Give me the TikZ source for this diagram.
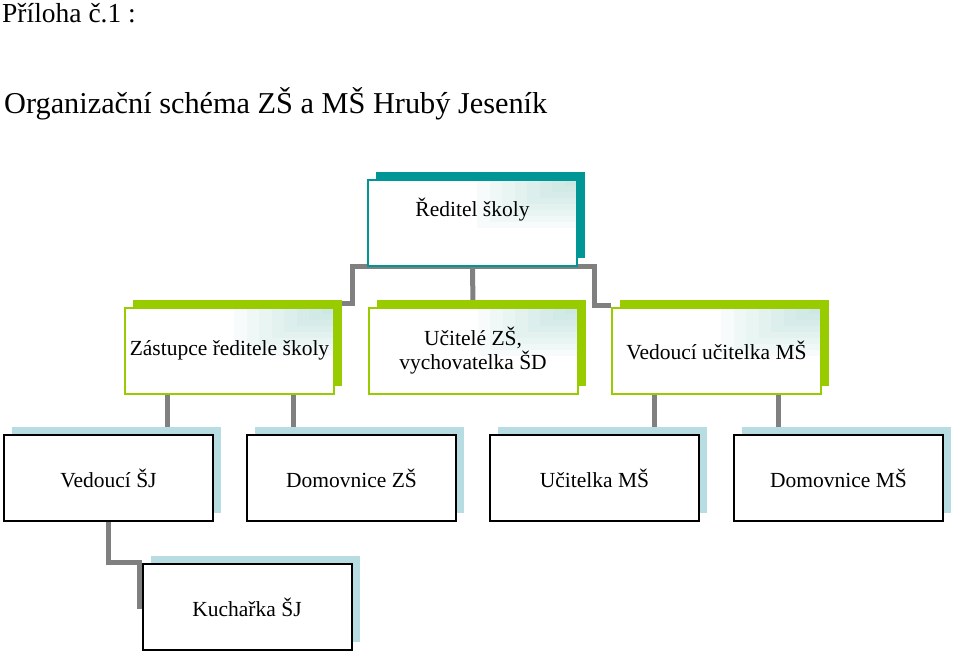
\documentclass[tikz,border=0pt]{standalone}
\usepackage{fontspec}
\setmainfont{Liberation Serif}
\usepackage{xcolor}
\usetikzlibrary{positioning, shadows, backgrounds}
\definecolor{tyrkys}{RGB}{0,150,150}
\definecolor{zelena}{RGB}{153,204,0}
\definecolor{modra}{RGB}{183,221,227}
\definecolor{sedalinka}{RGB}{128,128,128}
\definecolor{prechod}{RGB}{150,210,200}
\tikzstyle{roh} = [path picture={
\foreach \i in {1,...,8}{
\fill[prechod, opacity=0.07] ([xshift={-12.5pt*\i}]path picture bounding box.north east) rectangle ([yshift={-6pt*\i}]path picture bounding box.north east);}
}]
\tikzstyle{box} = [rectangle, 
minimum width=209pt, 
minimum height=86pt, 
inner sep=0pt, 
align=center, 
font=\fontsize{21.5}{24}\selectfont, 
fill=white, 
line width=2pt]
\tikzstyle{vedeni} = [box, roh, draw=tyrkys, 
general shadow={fill=tyrkys, shadow xshift=8pt, shadow yshift=8pt}]
\tikzstyle{zastup} = [box, roh, draw=zelena, 
general shadow={fill=zelena, shadow xshift=8pt, shadow yshift=8pt}]
\tikzstyle{zamest} = [box, draw=black, 
general shadow={fill=modra, shadow xshift=8pt, shadow yshift=8pt}]
\tikzstyle{spoj} = [line width=5pt, draw=sedalinka]

\begin{document}
\begin{tikzpicture}[x=1pt, y=-1pt]
        \useasboundingbox (0,0) rectangle (960,651);

        % Nadpisy
        \node (priloha) [anchor=base west, inner sep=0pt, font=\fontsize{27.5}{31}\selectfont] at (2,22) {Příloha č.1 :};
        \node (nadpis) [anchor=base west, inner sep=0pt, font=\fontsize{30.3}{34}\selectfont] at (4,113) {Organizační schéma ZŠ a MŠ Hrubý Jeseník};

        % Uzly
        \node (red) [vedeni] at (472.5,222.5) {\raisebox{6.5pt}[0pt][0pt]{Ředitel školy}};
        \node (zast) [zastup] at (229.5,350.5) {Zástupce ředitele školy};
        \node (uc) [zastup] at (473,350.5) {Učitelé ZŠ,\\vychovatelka ŠD};
        \node (vedu) [zastup] at (716.5,350.5) {Vedoucí učitelka MŠ};
        \node (vsj) [zamest] at (108.5,478) {Vedoucí ŠJ};
        \node (domzs) [zamest] at (351.5,478) {Domovnice ZŠ};
        \node (ucms) [zamest] at (594.5,478) {Učitelka MŠ};
        \node (domms) [zamest] at (838.5,478) {Domovnice MŠ};
        \node (kuch) [zamest] at (247,607) {Kuchařka ŠJ};

        % Spojení
        \begin{scope}[on background layer]
        \draw [spoj] (red.south) -- (uc.north);
        \draw [spoj] (red.south) -| ([xshift=17pt,yshift=3pt]zast.north east) -- ([xshift=6pt,yshift=3pt]zast.north east);
        \draw [spoj] (red.south) -| ([xshift=-17pt,yshift=1pt]vedu.north west) -- ([yshift=1pt]vedu.north west);
        \draw [spoj] ([xshift=43pt]zast.south west) -- ([xshift=43pt]zast.south west |- vsj.north);
        \draw [spoj] ([xshift=-42pt]zast.south east) -- ([xshift=-42pt]zast.south east |- domzs.north);
        \draw [spoj] ([xshift=43pt]vedu.south west) -- ([xshift=43pt]vedu.south west |- ucms.north);
        \draw [spoj] ([xshift=-44pt]vedu.south east) -- ([xshift=-44pt]vedu.south east |- domms.north);
        \draw [spoj] (vsj.south) |- ([xshift=-2pt,yshift=1pt]kuch.north west) -- ([xshift=-2pt,yshift=-2pt]kuch.west);
        \end{scope}

    \end{tikzpicture}
\end{document}
